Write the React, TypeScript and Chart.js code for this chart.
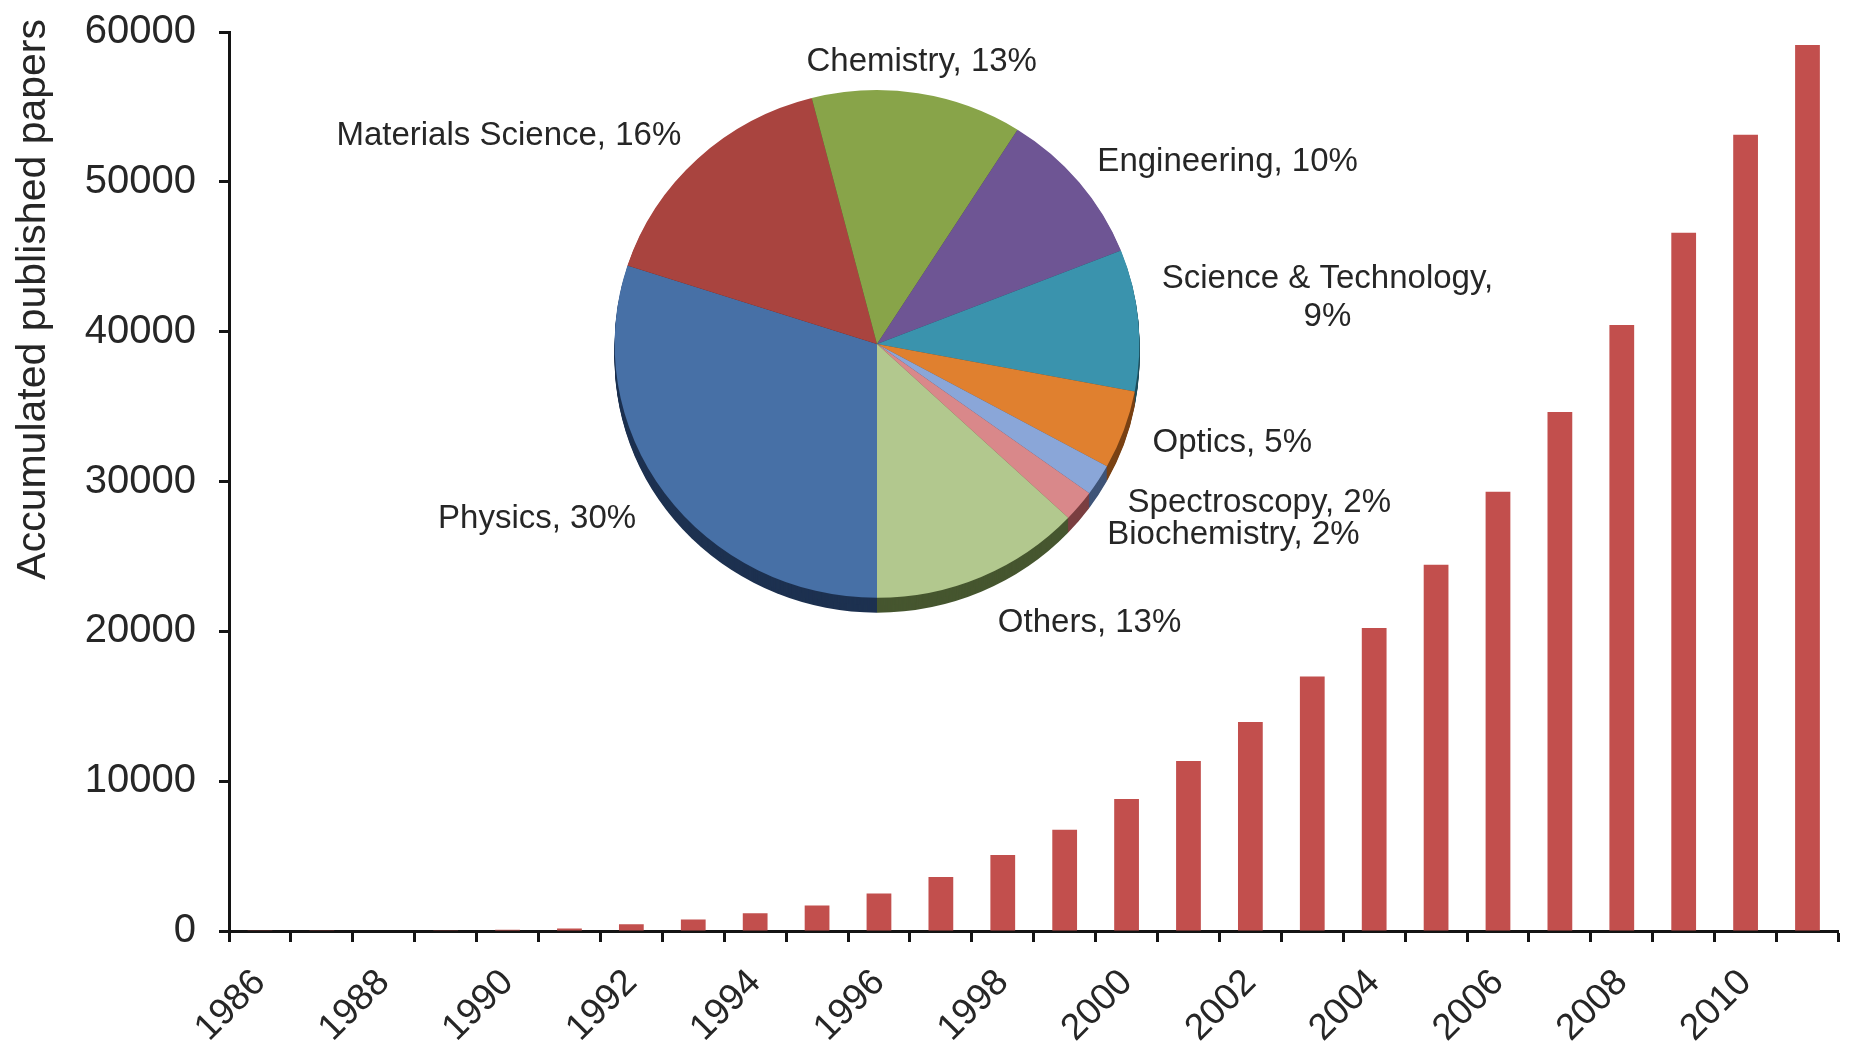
import React, { useEffect, useRef } from 'react';
import { Chart, registerables } from 'chart.js';

Chart.register(...registerables);

// Accumulated number of published papers per year
const years = [
  '1986', '1987', '1988', '1989', '1990', '1991', '1992', '1993', '1994',
  '1995', '1996', '1997', '1998', '1999', '2000', '2001', '2002', '2003',
  '2004', '2005', '2006', '2007', '2008', '2009', '2010', '2011',
];
const papers = [
  10, 20, 30, 50, 80, 170, 450, 760, 1180,
  1700, 2510, 3600, 5070, 6760, 8810, 11340, 13950, 16980,
  20230, 24450, 29320, 34640, 40450, 46600, 53140, 59140,
];
const yMax = 60000;
const yStep = 10000;
const yTitle = 'Accumulated published papers';

// Share of papers by research field (%)
const fields = [
  'Physics', 'Materials Science', 'Chemistry', 'Engineering',
  'Science & Technology', 'Optics', 'Spectroscopy', 'Biochemistry', 'Others',
];
const shares = [30, 16, 13, 10, 9, 5, 2, 2, 13];
const faceColors = [
  '#4770A6', '#A9443F', '#88A449', '#6E5594', '#3A93AD',
  '#E0802F', '#8AA6D8', '#D9888A', '#B2C88E',
];
const sideColors = [
  '#1D3150', '#5A2220', '#45562A', '#3A2C4F', '#1F4E5C',
  '#7A4214', '#3F5478', '#7A3E40', '#46562F',
];

const W = 1858;
const H = 1048;
const FONT = "'Liberation Sans', Arial, Helvetica, sans-serif";
const TEXT = '#262626';
const INK = '#141414';

// Pie geometry on the overlay canvas (slightly tilted, so a little wider than tall)
const PIE_CX = 877;
const PIE_CY = 344;
const PIE_R = 258;
const PIE_SX = 1.017;
const PIE_SY = 0.984;
const PIE_DEPTH = 15;

// Vertical axis title, set a little above the top of the value axis
const yTitlePlugin = {
  id: 'yTitle',
  afterDraw(chart: any) {
    const ctx = chart.ctx;
    const s = chart.scales.y;
    ctx.save();
    ctx.translate(s.left + 34, chart.chartArea.top - 13);
    ctx.rotate(-Math.PI / 2);
    ctx.font = `41px ${FONT}`;
    ctx.fillStyle = TEXT;
    ctx.textAlign = 'right';
    ctx.textBaseline = 'middle';
    ctx.fillText(yTitle, 0, 0);
    ctx.restore();
  },
};

// Squash the disc into a slight ellipse while the slices are drawn
const pieTiltPlugin = {
  id: 'pieTilt',
  beforeDatasetsDraw(chart: any) {
    const ctx = chart.ctx;
    const cx = (chart.chartArea.left + chart.chartArea.right) / 2;
    const cy = (chart.chartArea.top + chart.chartArea.bottom) / 2;
    ctx.save();
    ctx.translate(cx, cy);
    ctx.scale(PIE_SX, PIE_SY);
    ctx.translate(-cx, -cy);
  },
  afterDatasetsDraw(chart: any) {
    chart.ctx.restore();
  },
};

const pieSidePlugin = {
  id: 'pieSide',
  beforeDatasetsDraw(chart: any) {
    const meta = chart.getDatasetMeta(0);
    const ctx = chart.ctx;
    ctx.save();
    for (let d = PIE_DEPTH; d >= 1; d--) {
      meta.data.forEach((arc: any, i: number) => {
        const p = arc.getProps(['x', 'y', 'startAngle', 'endAngle', 'outerRadius'], true);
        ctx.beginPath();
        ctx.moveTo(p.x, p.y + d);
        ctx.arc(p.x, p.y + d, p.outerRadius, p.startAngle, p.endAngle);
        ctx.closePath();
        ctx.fillStyle = sideColors[i];
        ctx.fill();
      });
    }
    ctx.restore();
  },
};

const pieLabelPlugin = {
  id: 'pieLabels',
  afterDatasetsDraw(chart: any) {
    const meta = chart.getDatasetMeta(0);
    const ctx = chart.ctx;
    ctx.save();
    ctx.font = `33px ${FONT}`;
    ctx.fillStyle = TEXT;
    ctx.textBaseline = 'middle';
    const lineH = 38;
    meta.data.forEach((arc: any, i: number) => {
      const p = arc.getProps(['x', 'y', 'startAngle', 'endAngle', 'outerRadius'], true);
      const mid = (p.startAngle + p.endAngle) / 2;
      const dx = Math.cos(mid);
      const dy = Math.sin(mid);
      const dist = p.outerRadius + 28 + 20 * Math.max(0, dy);
      const ax = p.x + dx * dist;
      const ay = p.y + dy * dist;
      const full = `${fields[i]}, ${shares[i]}%`;
      const lines = ctx.measureText(full).width > 360
        ? [`${fields[i]},`, `${shares[i]}%`]
        : [full];
      const blockW = Math.max(...lines.map((l: string) => ctx.measureText(l).width));
      let left: number;
      if (Math.abs(dx) < 0.3) left = ax - blockW / 2;
      else if (dx > 0) left = ax;
      else left = ax - blockW;
      ctx.textAlign = 'center';
      // wrapped labels grow upwards from the anchor line
      const top = ay - (lines.length - 1) * lineH;
      lines.forEach((l: string, k: number) => {
        ctx.fillText(l, left + blockW / 2, top + k * lineH);
      });
    });
    ctx.restore();
  },
};

export default function App() {
  const barRef = useRef<HTMLCanvasElement>(null);
  const pieRef = useRef<HTMLCanvasElement>(null);

  useEffect(() => {
    const barChart = new Chart(barRef.current as HTMLCanvasElement, {
      type: 'bar',
      data: {
        labels: years,
        datasets: [
          {
            data: papers,
            backgroundColor: '#C24F4D',
            barPercentage: 0.4,
            categoryPercentage: 1,
          },
        ],
      },
      options: {
        responsive: false,
        animation: false,
        devicePixelRatio: 1,
        events: [],
        layout: { padding: { top: 32, right: 6, left: 0, bottom: 0 } },
        plugins: { legend: { display: false }, tooltip: { enabled: false } },
        scales: {
          x: {
            z: 1,
            offset: true,
            grid: {
              display: true,
              offset: true,
              drawOnChartArea: false,
              drawTicks: true,
              tickLength: 11,
              tickWidth: 3,
              tickColor: INK,
              color: INK,
            },
            border: { display: true, color: INK, width: 3 },
            ticks: {
              autoSkip: false,
              minRotation: 45,
              maxRotation: 45,
              padding: 19,
              color: TEXT,
              font: { family: FONT, size: 37 },
              callback: function (this: any, v: any, i: number) {
                return i % 2 === 0 ? this.getLabelForValue(v) : '';
              },
            },
            afterFit: (s: any) => {
              s.height = 117;
            },
          },
          y: {
            z: 1,
            min: 0,
            max: yMax,
            ticks: {
              stepSize: yStep,
              padding: 23,
              color: TEXT,
              font: { family: FONT, size: 40 },
              callback: (v: any) => String(v),
            },
            grid: {
              drawOnChartArea: false,
              drawTicks: true,
              tickLength: 10,
              tickWidth: 3,
              tickColor: INK,
              color: INK,
            },
            border: { display: true, color: INK, width: 3 },
            afterFit: (s: any) => {
              s.width = 229;
              s.paddingTop = 0;
              s.paddingBottom = 0;
            },
          },
        },
      },
      plugins: [yTitlePlugin],
    } as any);

    const pieChart = new Chart(pieRef.current as HTMLCanvasElement, {
      type: 'pie',
      data: {
        labels: fields,
        datasets: [
          {
            data: shares,
            backgroundColor: faceColors,
            borderWidth: 0,
            hoverBorderWidth: 0,
            offset: 0,
            hoverOffset: 0,
            clip: false,
          },
        ],
      },
      options: {
        responsive: false,
        animation: false,
        devicePixelRatio: 1,
        events: [],
        rotation: 180,
        layout: {
          padding: {
            left: PIE_CX - PIE_R,
            top: PIE_CY - PIE_R,
            right: W - (PIE_CX + PIE_R),
            bottom: H - (PIE_CY + PIE_R),
          },
        },
        plugins: { legend: { display: false }, tooltip: { enabled: false } },
      },
      plugins: [pieTiltPlugin, pieSidePlugin, pieLabelPlugin],
    } as any);

    return () => {
      barChart.destroy();
      pieChart.destroy();
    };
  }, []);

  return (
    <div
      style={{
        position: 'fixed',
        left: 0,
        top: 0,
        width: W,
        height: H,
        background: '#fff',
        overflow: 'hidden',
      }}
    >
      <canvas
        ref={barRef}
        width={W}
        height={H}
        style={{ position: 'absolute', left: 0, top: 0, width: W, height: H }}
      />
      <canvas
        ref={pieRef}
        width={W}
        height={H}
        style={{
          position: 'absolute',
          left: 0,
          top: 0,
          width: W,
          height: H,
          pointerEvents: 'none',
        }}
      />
    </div>
  );
}
